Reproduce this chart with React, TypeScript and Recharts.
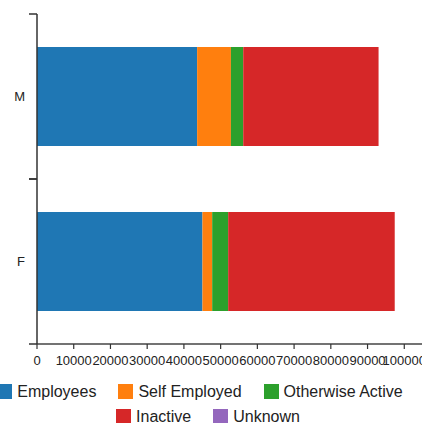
import React from 'react';
import { BarChart, Bar, XAxis, YAxis, Legend } from 'recharts';

const categories = ['M', 'F'];
const employees = [43600, 45050];
const selfEmployed = [9200, 2650];
const otherwiseActive = [3350, 4350];
const inactive = [36850, 45350];
const unknown = [0, 0];

const seriesNames = ['Employees', 'Self Employed', 'Otherwise Active', 'Inactive', 'Unknown'];
const seriesKeys = ['employees', 'selfEmployed', 'otherwiseActive', 'inactive', 'unknown'];
const seriesColors = ['#1f77b4', '#ff7f0e', '#2ca02c', '#d62728', '#9467bd'];
const xTicks = [0, 10000, 20000, 30000, 40000, 50000, 60000, 70000, 80000, 90000, 100000];

const data = categories.map((c, i) => ({
  sex: c,
  employees: employees[i],
  selfEmployed: selfEmployed[i],
  otherwiseActive: otherwiseActive[i],
  inactive: inactive[i],
  unknown: unknown[i],
}));

const FONT = '"Liberation Sans", Arial, Helvetica, sans-serif';
const AXIS_X = 37;
const HALF_BAND = 82.5;

const YTick = (props: any) => {
  const { y, payload } = props;
  return (
    <g>
      <line x1={AXIS_X - 8} x2={AXIS_X} y1={y - HALF_BAND} y2={y - HALF_BAND} stroke="#333" strokeWidth={1.5} />
      <line x1={AXIS_X - 8} x2={AXIS_X} y1={y + HALF_BAND} y2={y + HALF_BAND} stroke="#333" strokeWidth={1.5} />
      <text x={AXIS_X - 12} y={y} dy="0.35em" textAnchor="end" fontSize={13} fontFamily={FONT} fill="#222">
        {payload.value}
      </text>
    </g>
  );
};

const LegendContent = () => {
  const rows = [
    [0, 1, 2],
    [3, 4],
  ];
  return (
    <div style={{ width: 408, fontFamily: FONT, fontSize: 16, color: '#222' }}>
      {rows.map((r, ri) => (
        <div
          key={ri}
          style={{
            display: 'flex',
            justifyContent: 'center',
            columnGap: 22,
            height: 25,
            alignItems: 'center',
            paddingLeft: ri === 1 ? 16 : 0,
          }}
        >
          {r.map((i) => (
            <div key={i} style={{ display: 'flex', alignItems: 'center' }}>
              <span style={{ display: 'inline-block', width: 15, height: 15, background: seriesColors[i], marginRight: 5 }} />
              <span style={{ lineHeight: '25px', whiteSpace: 'nowrap' }}>{seriesNames[i]}</span>
            </div>
          ))}
        </div>
      ))}
    </div>
  );
};

export default function App() {
  return (
    <div style={{ position: 'absolute', left: 0, top: 0, width: 422, height: 423, overflow: 'hidden', background: '#fff' }}>
      <BarChart
        width={450}
        height={423}
        data={data}
        layout="vertical"
        barCategoryGap="20%"
        margin={{ top: 14, right: 9, bottom: 0, left: 0 }}
      >
        <XAxis
          type="number"
          domain={[0, 110000]}
          ticks={xTicks}
          interval={0}
          allowDataOverflow
          height={29}
          tickSize={5}
          tickMargin={7}
          axisLine={{ stroke: '#444', strokeWidth: 1.5 }}
          tickLine={{ stroke: '#333', strokeWidth: 1.2 }}
          tick={{ fontSize: 13, fontFamily: FONT, fill: '#222' }}
        />
        <YAxis
          type="category"
          dataKey="sex"
          width={AXIS_X}
          tickLine={false}
          axisLine={{ stroke: '#333', strokeWidth: 1.5 }}
          tick={<YTick />}
        />
        <Legend
          verticalAlign="bottom"
          layout="horizontal"
          content={<LegendContent />}
          wrapperStyle={{ left: -4, top: 379, width: 408 }}
        />
        {seriesKeys.map((k, i) => (
          <Bar key={k} dataKey={k} name={seriesNames[i]} stackId="a" fill={seriesColors[i]} isAnimationActive={false} />
        ))}
      </BarChart>
    </div>
  );
}
